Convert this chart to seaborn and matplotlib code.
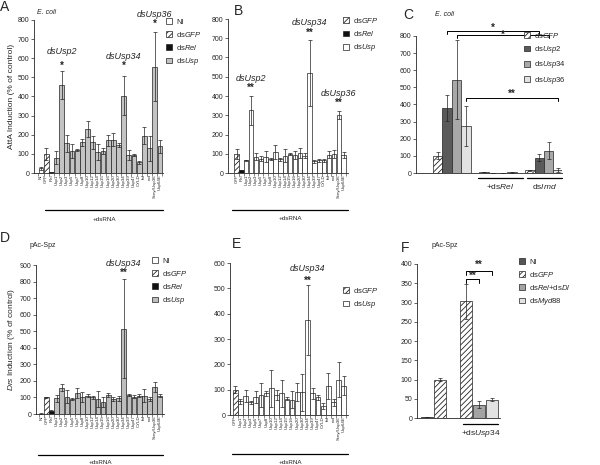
import numpy as np
import pandas as pd
import matplotlib
matplotlib.use('Agg')
import matplotlib.pyplot as plt
from matplotlib.patches import Patch
from matplotlib.lines import Line2D
import seaborn as sns

sns.set_style('ticks')
plt.rcParams['font.family'] = ['Liberation Sans', 'DejaVu Sans']
plt.rcParams['mathtext.fontset'] = 'custom'
plt.rcParams['mathtext.rm'] = 'Liberation Sans'
plt.rcParams['mathtext.it'] = 'Liberation Sans:italic'
plt.rcParams['hatch.linewidth'] = 0.6

W, H = 600, 465

# --- data --------------------------------------------------------------
usp_names = ['Usp1', 'Usp2', 'Usp3', 'Usp5', 'Usp7', 'Usp8', 'Usp10', 'Usp12',
             'Usp14', 'Usp15', 'Usp16', 'Usp20', 'Usp30', 'Usp34', 'Usp39',
             'Usp47', 'CYLD', 'faf', 'not', 'Scny/Usp36', 'Usp64E']

# A: E. coli, AttA
a_ctrl = ['NI', 'GFP', 'Rel']
a_ctrl_vals = [25, 100, 3]
a_ctrl_err = [8, 30, 2]
a_usp_vals = [80, 460, 155, 115, 120, 160, 230, 160, 110, 115, 170, 175, 145,
              405, 95, 95, 55, 195, 130, 555, 140]
a_usp_err = [35, 75, 45, 35, 5, 20, 40, 35, 40, 15, 30, 35, 10, 100, 25, 5, 10,
             45, 65, 180, 35]

# B: E. coli, second screen
b_ctrl = ['GFP', 'Rel']
b_ctrl_vals = [100, 15]
b_ctrl_err = [25, 2]
b_usp_vals = [65, 325, 85, 75, 85, 72, 110, 72, 90, 100, 95, 105, 90, 520, 60,
              65, 65, 95, 100, 300, 95]
b_usp_err = [3, 75, 20, 15, 30, 5, 38, 8, 35, 5, 20, 25, 12, 170, 8, 8, 10, 18,
             22, 20, 15]

# C: E. coli, epistasis
c_groups = ['ctrl', '+dsRel', 'dsImd']
c_hues = ['dsGFP', 'dsUsp2', 'dsUsp34', 'dsUsp36']
c_vals = {'dsGFP': [100, 5, 15], 'dsUsp2': [380, 0, 90],
          'dsUsp34': [545, 0, 130], 'dsUsp36': [275, 3, 20]}
c_err = {'dsGFP': [20, 2, 5], 'dsUsp2': [75, 0, 20],
         'dsUsp34': [230, 0, 50], 'dsUsp36': [115, 1, 12]}

# D: pAc-Spz, Drs
d_ctrl = ['NI', 'GFP', 'Rel']
d_ctrl_vals = [3, 100, 20]
d_ctrl_err = [1, 5, 2]
d_usp_vals = [95, 160, 105, 90, 125, 105, 110, 100, 90, 70, 115, 90, 95, 515,
              115, 105, 110, 110, 90, 165, 110]
d_usp_err = [20, 22, 40, 5, 30, 30, 8, 8, 50, 30, 12, 10, 15, 300, 5, 10, 8,
             40, 12, 30, 8]

# E: pAc-Spz, second screen
e_ctrl = ['GFP']
e_ctrl_vals = [100]
e_ctrl_err = [15]
e_usp_vals = [55, 75, 50, 70, 80, 85, 105, 80, 85, 65, 60, 90, 90, 375, 85, 70,
              35, 115, 50, 140, 115]
e_usp_err = [10, 25, 5, 23, 48, 10, 73, 20, 52, 7, 33, 36, 73, 140, 23, 10, 13,
             52, 15, 68, 37]

# F: pAc-Spz, epistasis
f_cats = ['NI', 'GFP', 'gap', 'GFP+Usp34', 'RelDl+Usp34', 'Myd88+Usp34']
f_kind = ['NI', 'dsGFP', None, 'dsGFP', 'dsRel+dsDl', 'dsMyd88']
f_vals = [3, 100, None, 303, 35, 48]
f_err = [0, 3, None, 45, 8, 5]

EDGE = '#222222'
HATCH = '//////'


def rect(x0, y0, x1, y1):
    return [x0 / W, 1 - y1 / H, (x1 - x0) / W, (y1 - y0) / H]


def fpos(x, y):
    return x / W, 1 - y / H


def style_axes(ax, ymax, ystep):
    ax.set_ylim(0, ymax)
    ax.set_yticks(np.arange(0, ymax + 1, ystep))
    ax.tick_params(axis='y', labelsize=5, length=2, width=0.5, pad=1.5)
    for s in ['top', 'right']:
        ax.spines[s].set_visible(False)
    for s in ['left', 'bottom']:
        ax.spines[s].set_linewidth(0.6)
    ax.set_xlabel('')
    ax.set_ylabel('')


def legend(ax, items, x, y):
    handles = []
    for label, color, hatch in items:
        handles.append(Patch(facecolor=color, edgecolor=EDGE, hatch=hatch,
                             linewidth=0.5, label=label))
    ax.legend(handles=handles, loc='upper left', bbox_to_anchor=fpos(x, y),
              bbox_transform=ax.figure.transFigure, frameon=False, fontsize=5.5,
              handlelength=0.8, handleheight=0.8, handletextpad=0.5,
              labelspacing=0.55, borderpad=0, borderaxespad=0)


def screen_panel(fig, r, ctrl, ctrl_vals, ctrl_err, usp_vals, usp_err,
                 usp_color, ymax, ystep, xlim):
    kind_of = {'NI': 'NI', 'GFP': 'dsGFP', 'Rel': 'dsRel'}
    df = pd.DataFrame({
        'gene': ctrl + usp_names,
        'val': ctrl_vals + usp_vals,
        'err': ctrl_err + usp_err,
        'kind': [kind_of[c] for c in ctrl] + ['dsUsp'] * len(usp_names),
    })
    palette = {'NI': 'white', 'dsGFP': 'white', 'dsRel': '#111111',
               'dsUsp': usp_color}
    ax = fig.add_axes(rect(*r))
    sns.barplot(data=df, x='gene', y='val', hue='kind', order=list(df['gene']),
                palette=palette, dodge=False, width=0.92, errorbar=None,
                legend=False, edgecolor=EDGE, linewidth=0.5, ax=ax)
    for bar in ax.patches:
        i = int(round(bar.get_x() + bar.get_width() / 2))
        if 0 <= i < len(df) and df['kind'][i] == 'dsGFP':
            bar.set_hatch(HATCH)
    xs = ax.get_xticks()
    ax.errorbar(xs, df['val'], yerr=df['err'], fmt='none', ecolor=EDGE,
                elinewidth=0.5, capsize=1.5, capthick=0.5)
    style_axes(ax, ymax, ystep)
    ax.set_xlim(*xlim)
    ax.set_xticks(xs)
    ax.set_xticklabels(df['gene'], rotation=90, fontsize=3.2)
    ax.set_xticks(np.arange(-0.5, len(df)), minor=True)
    ax.tick_params(axis='x', which='major', length=0, pad=1)
    ax.tick_params(axis='x', which='minor', length=1.8, width=0.4)
    return ax, df


def mark(ax, df, gene, label, stars, y_star, y_label):
    i = list(df['gene']).index(gene)
    x = ax.get_xticks()[i]
    ax.text(x, y_star, stars, ha='center', va='center', fontsize=7,
            fontweight='bold', clip_on=False)
    ax.text(x, y_label, label, ha='center', va='center', fontsize=6.5,
            fontstyle='italic', clip_on=False)


def underline(fig, x0, x1, y, text, ty, tx=None, size=4.5):
    fig.add_artist(Line2D([x0 / W, x1 / W], [1 - y / H, 1 - y / H],
                          transform=fig.transFigure, color='black', lw=0.9))
    if tx is None:
        tx = (x0 + x1) / 2
    fig.text(*fpos(tx, ty), text, ha='center', va='center', fontsize=size)


fig = plt.figure(figsize=(6, 4.65), dpi=100)

# ---- A ----
axA, dfA = screen_panel(fig, (34, 20, 163, 173), a_ctrl, a_ctrl_vals,
                        a_ctrl_err, a_usp_vals, a_usp_err, '#c3c3c3', 800,
                        100, (-1.35, 23.6))
mark(axA, dfA, 'Usp2', 'dsUsp2', '*', 560, 635)
mark(axA, dfA, 'Usp34', 'dsUsp34', '*', 560, 610)
mark(axA, dfA, 'Scny/Usp36', 'dsUsp36', '*', 780, 830)
axA.set_ylabel('AttA Induction (% of control)', fontsize=6, labelpad=2)
legend(axA, [('NI', 'white', None), (r'ds$\mathit{GFP}$', 'white', HATCH),
             (r'ds$\mathit{Rel}$', '#111111', None),
             (r'ds$\mathit{Usp}$', '#c3c3c3', None)], 166, 18)
underline(fig, 45, 163, 210, '+dsRNA', 219)

# ---- B ----
axB, dfB = screen_panel(fig, (228, 19, 348, 173), b_ctrl, b_ctrl_vals,
                        b_ctrl_err, b_usp_vals, b_usp_err, 'white', 800, 100,
                        (-1.75, 22.9))
mark(axB, dfB, 'Usp2', 'dsUsp2', '**', 440, 490)
mark(axB, dfB, 'Usp34', 'dsUsp34', '**', 727, 780)
mark(axB, dfB, 'Scny/Usp36', 'dsUsp36', '**', 363, 415)
legend(axB, [(r'ds$\mathit{GFP}$', 'white', HATCH),
             (r'ds$\mathit{Rel}$', '#111111', None),
             (r'ds$\mathit{Usp}$', 'white', None)], 343, 16)
underline(fig, 232, 348, 210, '+dsRNA', 218)

# ---- C ----
c_colors = {'dsGFP': 'white', 'dsUsp2': '#5a5a5a', 'dsUsp34': '#a8a8a8',
            'dsUsp36': '#e2e2e2'}
dfC = pd.DataFrame([(g, h, c_vals[h][j], c_err[h][j])
                    for h in c_hues for j, g in enumerate(c_groups)],
                   columns=['group', 'ds', 'val', 'err'])
axC = fig.add_axes(rect(416, 36, 562, 173))
sns.barplot(data=dfC, x='group', y='val', hue='ds', order=c_groups,
            hue_order=c_hues, palette=c_colors, width=0.82, errorbar=None,
            legend=False, edgecolor=EDGE, linewidth=0.5, ax=axC)
c_centers = {}
for h, cont in zip(c_hues, axC.containers):
    xs = [b.get_x() + b.get_width() / 2 for b in cont]
    c_centers[h] = xs
    if h == 'dsGFP':
        for b in cont:
            b.set_hatch(HATCH)
    axC.errorbar(xs, c_vals[h], yerr=c_err[h], fmt='none', ecolor=EDGE,
                 elinewidth=0.5, capsize=1.5, capthick=0.5)
style_axes(axC, 800, 100)
axC.set_xlim(-0.78, 2.39)
axC.set_xticks([])


def bracket(ax, x0, x1, y, drop, text, ty, size=7):
    ax.plot([x0, x0, x1, x1], [y - drop, y, y, y - drop], color='black',
            lw=0.7, clip_on=False)
    ax.text((x0 + x1) / 2, ty, text, ha='center', va='center', fontsize=size,
            fontweight='bold', clip_on=False)


bracket(axC, c_centers['dsUsp2'][0], c_centers['dsUsp2'][2], 830, 18, '*', 848)
bracket(axC, c_centers['dsUsp34'][0], c_centers['dsUsp34'][2], 806, 18, '*', 808)
bracket(axC, c_centers['dsUsp36'][0], c_centers['dsUsp36'][2], 440, 18, '**', 462)
legend(axC, [(r'ds$\mathit{GFP}$', 'white', HATCH),
             (r'ds$\mathit{Usp2}$', '#5a5a5a', None),
             (r'ds$\mathit{Usp34}$', '#a8a8a8', None),
             (r'ds$\mathit{Usp36}$', '#e2e2e2', None)], 524, 31)
underline(fig, 478, 523, 178, r'+ds$\mathit{Rel}$', 186, size=6)
underline(fig, 527, 562, 178, r'ds$\mathit{Imd}$', 186, size=6)

# ---- D ----
axD, dfD = screen_panel(fig, (36, 265, 164, 414), d_ctrl, d_ctrl_vals,
                        d_ctrl_err, d_usp_vals, d_usp_err, '#bdbdbd', 900,
                        100, (-1.0, 23.8))
mark(axD, dfD, 'Usp34', 'dsUsp34', '**', 850, 910)
axD.set_ylabel(r'$\mathit{Drs}$ Induction (% of control)', fontsize=6,
               labelpad=2)
legend(axD, [('NI', 'white', None), (r'ds$\mathit{GFP}$', 'white', HATCH),
             (r'ds$\mathit{Rel}$', '#111111', None),
             (r'ds$\mathit{Usp}$', '#bdbdbd', None)], 152, 257)
underline(fig, 38, 163, 455, '+dsRNA', 462)

# ---- E ----
axE, dfE = screen_panel(fig, (230, 263, 348, 415), e_ctrl, e_ctrl_vals,
                        e_ctrl_err, e_usp_vals, e_usp_err, 'white', 600, 100,
                        (-1.0, 21.8))
mark(axE, dfE, 'Usp34', 'dsUsp34', '**', 528, 578)
legend(axE, [(r'ds$\mathit{GFP}$', 'white', HATCH),
             (r'ds$\mathit{Usp}$', 'white', None)], 343, 286)
underline(fig, 232, 348, 454, '+dsRNA', 462)

# ---- F ----
f_colors = {'NI': '#555555', 'dsGFP': 'white', 'dsRel+dsDl': '#a3a3a3',
            'dsMyd88': '#e2e2e2'}
dfF = pd.DataFrame({'cat': f_cats, 'kind': f_kind, 'val': f_vals,
                    'err': f_err}).dropna()
axF = fig.add_axes(rect(417, 264, 500, 418))
sns.barplot(data=dfF, x='cat', y='val', hue='kind', order=f_cats,
            hue_order=['NI', 'dsGFP', 'dsRel+dsDl', 'dsMyd88'],
            palette=f_colors, dodge=False, width=0.92, errorbar=None,
            legend=False, edgecolor=EDGE, linewidth=0.5, ax=axF)
for b in axF.patches:
    i = int(round(b.get_x() + b.get_width() / 2))
    if 0 <= i < len(f_kind) and f_kind[i] == 'dsGFP':
        b.set_hatch(HATCH)
fx = [axF.get_xticks()[f_cats.index(c)] for c in dfF['cat']]
axF.errorbar(fx, dfF['val'], yerr=dfF['err'], fmt='none', ecolor=EDGE,
             elinewidth=0.5, capsize=1.5, capthick=0.5)
style_axes(axF, 400, 50)
axF.set_xlim(-0.77, 5.62)
axF.set_xticks([])
xg = axF.get_xticks()
x_gfp = f_cats.index('GFP+Usp34')
x_rel = f_cats.index('RelDl+Usp34')
x_myd = f_cats.index('Myd88+Usp34')
bracket(axF, x_gfp, x_myd, 383, 11, '**', 397)
bracket(axF, x_gfp, x_rel, 360, 10, '**', 368)
legend(axF, [('NI', '#555555', None), (r'ds$\mathit{GFP}$', 'white', HATCH),
             (r'ds$\mathit{Rel}$+ds$\mathit{Dl}$', '#a3a3a3', None),
             (r'ds$\mathit{Myd88}$', '#e2e2e2', None)], 519, 258)
underline(fig, 463, 498, 424, r'+ds$\mathit{Usp34}$', 433, size=6)

# ---- panel letters and titles ----
for letter, x, y in [('A', 0, 0), ('B', 234, 4), ('C', 403, 8),
                     ('D', 0, 231), ('E', 232, 237), ('F', 401, 241)]:
    fig.text(*fpos(x, y), letter, ha='left', va='top', fontsize=10)
fig.text(*fpos(37, 12), 'E. coli', fontsize=5, fontstyle='italic', va='center')
fig.text(*fpos(435, 14), 'E. coli', fontsize=5, fontstyle='italic',
         va='center')
fig.text(*fpos(30, 245), 'pAc-Spz', fontsize=5, va='center')
fig.text(*fpos(432, 245), 'pAc-Spz', fontsize=5, va='center')

fig.savefig('out.png', dpi=100)
